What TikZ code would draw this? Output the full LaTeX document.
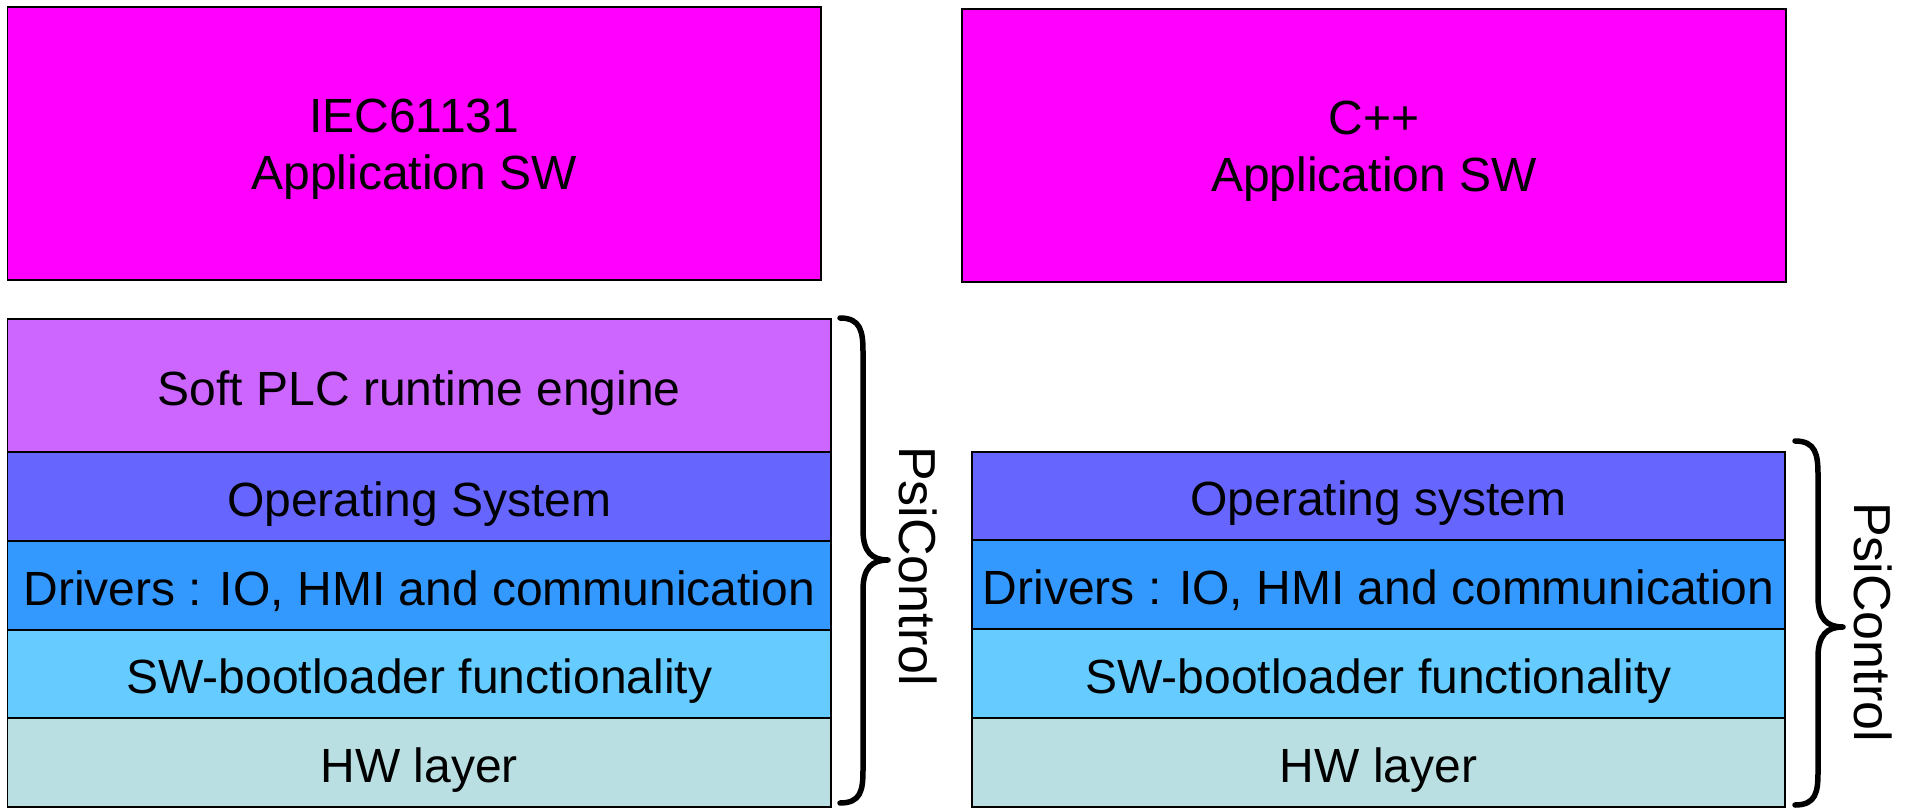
\documentclass[tikz,border=0pt]{standalone}
\usepackage{fontspec}
\setmainfont{Liberation Sans}
\definecolor{appmag}{HTML}{FF00FF}
\definecolor{plc}{HTML}{CC66FF}
\definecolor{os}{HTML}{6666FF}
\definecolor{drv}{HTML}{3399FF}
\definecolor{boot}{HTML}{66CCFF}
\definecolor{hw}{HTML}{B9DFE2}
\begin{document}
\begin{tikzpicture}[x=1pt,y=-1pt,
  layer/.style={draw=black,line width=1.6pt,rectangle,inner sep=0pt,outer sep=0pt,align=center,
    font=\fontsize{48}{57}\selectfont,text height=43pt,text depth=4pt},
  twoline/.style={text height=96pt,text depth=4pt},
  bracepath/.style={draw=black,line width=5.5pt,line cap=round,line join=round},
  bracelabel/.style={rotate=-90,font=\fontsize{52}{60}\selectfont,inner sep=0pt}]
\useasboundingbox (0,0) rectangle (1907,808);
% application boxes
\node[layer,twoline,fill=appmag,minimum width=813.5pt,minimum height=273pt] (iec) at (414.25,143.5) {IEC61131\\Application SW};
\node[layer,twoline,fill=appmag,minimum width=824pt,minimum height=273pt] (cpp) at (1374,145.5) {C++\\Application SW};
% left stack
\node[layer,fill=plc,minimum width=823.5pt,minimum height=133pt] (lplc) at (419.25,385.5) {Soft PLC runtime engine};
\node[layer,fill=os,minimum width=823.5pt,minimum height=89pt] (los) at (419.25,496.5) {Operating System};
\node[layer,fill=drv,minimum width=823.5pt,minimum height=89pt] (ldrv) at (419.25,585.5) {Drivers : IO, HMI and communication};
\node[layer,fill=boot,minimum width=823.5pt,minimum height=88pt] (lboot) at (419.25,674) {SW-bootloader functionality};
\node[layer,fill=hw,minimum width=823.5pt,minimum height=89pt] (lhw) at (419.25,762.5) {HW layer};
% right stack
\node[layer,fill=os,minimum width=813pt,minimum height=88pt] (ros) at (1378.5,496) {Operating system};
\node[layer,fill=drv,minimum width=813pt,minimum height=89pt] (rdrv) at (1378.5,584.5) {Drivers : IO, HMI and communication};
\node[layer,fill=boot,minimum width=813pt,minimum height=89pt] (rboot) at (1378.5,673.5) {SW-bootloader functionality};
\node[layer,fill=hw,minimum width=813pt,minimum height=89pt] (rhw) at (1378.5,762.5) {HW layer};
% left brace
\draw[bracepath] (840,318) .. controls (861,318) and (863,332) .. (863,352)
  -- (863,530) .. controls (863,552) and (872,560) .. (888,560)
  .. controls (872,560) and (863,568) .. (863,590)
  -- (863,770) .. controls (863,790) and (861,803) .. (840,803);
\node[bracelabel] (lpsi) at (918,566) {PsiControl};
% right brace
\draw[bracepath] (1795,441) .. controls (1816,441) and (1818,455) .. (1818,475)
  -- (1818,597) .. controls (1818,619) and (1827,627) .. (1843,627)
  .. controls (1827,627) and (1818,635) .. (1818,657)
  -- (1818,772) .. controls (1818,792) and (1816,805) .. (1795,805);
\node[bracelabel] (rpsi) at (1873,622) {PsiControl};
\end{tikzpicture}
\end{document}
